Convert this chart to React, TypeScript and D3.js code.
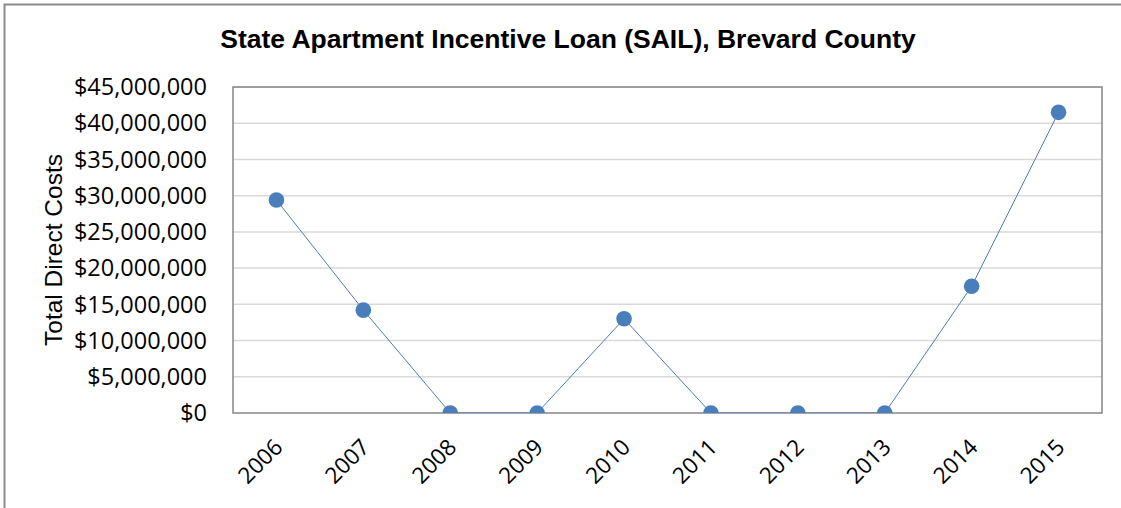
import React, { useRef, useEffect } from "react";
import * as d3 from "d3";

const years = ["2006", "2007", "2008", "2009", "2010", "2011", "2012", "2013", "2014", "2015"];
const costs = [29400000, 14200000, 0, 0, 13000000, 0, 0, 0, 17500000, 41500000];
const yTicks = [0, 5000000, 10000000, 15000000, 20000000, 25000000, 30000000, 35000000, 40000000, 45000000];

const W = 1121, H = 508;
const margin = { top: 87, right: 19, bottom: 95, left: 233 };

export default function App() {
    const svgRef = useRef<SVGSVGElement>(null);

    useEffect(() => {
        const svg = d3.select(svgRef.current);
        svg.selectAll("*").remove();

        const width = W - margin.left - margin.right;
        const height = H - margin.top - margin.bottom;

        // outer chart frame (only left and top visible)
        svg.append("path")
            .attr("d", `M4.5,${H} L4.5,4.5 L${W},4.5`)
            .attr("fill", "none")
            .attr("stroke", "#8c8c8c")
            .attr("stroke-width", 2);

        svg.append("text")
            .attr("x", 568)
            .attr("y", 48)
            .attr("text-anchor", "middle")
            .attr("font-family", "Liberation Sans, Arial, sans-serif")
            .attr("font-weight", "bold")
            .attr("font-size", "26.5px")
            .text("State Apartment Incentive Loan (SAIL), Brevard County");

        const g = svg.append("g").attr("transform", `translate(${margin.left},${margin.top})`);

        const x = d3.scaleBand().domain(years).range([0, width]);
        const y = d3.scaleLinear().domain([0, 45000000]).range([height, 0]);

        // gridlines
        g.selectAll("line.grid")
            .data(yTicks.slice(1))
            .enter().append("line")
            .attr("x1", 0).attr("x2", width)
            .attr("y1", d => y(d)).attr("y2", d => y(d))
            .attr("stroke", "#d9d9d9")
            .attr("stroke-width", 1.5);

        // plot frame
        g.append("rect")
            .attr("x", 0).attr("y", 0)
            .attr("width", width).attr("height", height)
            .attr("fill", "none")
            .attr("stroke", "#868686")
            .attr("stroke-width", 1.5);

        // y tick labels
        const fmt = d3.format("$,.0f");
        g.selectAll("text.ytick")
            .data(yTicks)
            .enter().append("text")
            .attr("x", -26)
            .attr("y", d => y(d))
            .attr("dy", "0.35em")
            .attr("text-anchor", "end")
            .attr("font-family", "Open Sans, sans-serif")
            .attr("font-size", "23.5px")
            .text(d => fmt(d));

        // x tick labels
        g.selectAll("text.xtick")
            .data(years)
            .enter().append("text")
            .attr("transform", d => `translate(${x(d)! + x.bandwidth() / 2 + 2},${height + 30}) rotate(-45)`)
            .attr("text-anchor", "end")
            .attr("dy", "0.35em")
            .attr("font-family", "Open Sans, sans-serif")
            .attr("font-size", "22.5px")
            .text(d => d);

        // y axis title
        svg.append("text")
            .attr("transform", `translate(62,${margin.top + height / 2}) rotate(-90)`)
            .attr("text-anchor", "middle")
            .attr("font-family", "Liberation Sans, Arial, sans-serif")
            .attr("font-size", "24.5px")
            .text("Total Direct Costs");

        svg.append("clipPath").attr("id", "plotclip")
            .append("rect").attr("x", 0).attr("y", -20).attr("width", width).attr("height", height + 20);

        const line = d3.line<number>()
            .x((d, i) => x(years[i])! + x.bandwidth() / 2)
            .y(d => y(d));

        const plot = g.append("g").attr("clip-path", "url(#plotclip)");

        plot.append("path")
            .datum(costs)
            .attr("fill", "none")
            .attr("stroke", "#4a7ebb")
            .attr("stroke-width", 1)
            .attr("d", line);

        plot.selectAll("circle")
            .data(costs)
            .enter().append("circle")
            .attr("cx", (d, i) => x(years[i])! + x.bandwidth() / 2)
            .attr("cy", d => y(d))
            .attr("r", 7.8)
            .attr("fill", "#4a7ebb");
    }, []);

    return (
        <svg ref={svgRef} width={W} height={H} style={{ position: "absolute", left: 0, top: 0, background: "#fff" }} />
    );
}
